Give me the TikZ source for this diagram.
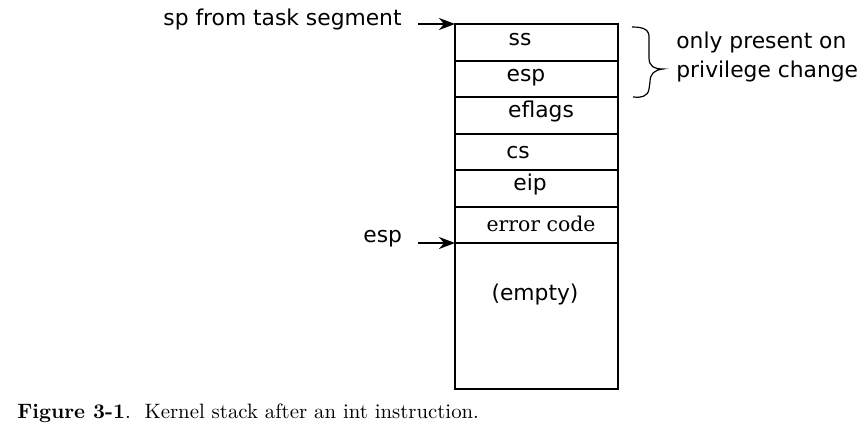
\documentclass[tikz,border=0pt]{standalone}
\usepackage{fontspec}
\setmainfont{DejaVu Sans}
\newfontfamily\errfont{DejaVu Serif}
\newfontfamily\capfont{Latin Modern Roman}
\usetikzlibrary{arrows.meta}

\tikzset{
  lbl/.style={font=\fontsize{10.9}{13}\selectfont, inner sep=0pt},
  cell/.style={lbl, anchor=base},
}

\begin{document}
\begin{tikzpicture}[x=0.5pt, y=-0.5pt, >={Stealth[length=8pt,width=6pt,inset=2.5pt]}]
    \useasboundingbox (0,0) rectangle (868,434);
    % the stack
    \draw[line width=0.8pt] (455,24) rectangle (618,389);
    \foreach \y in {61,97,134,170,207,243}
      \draw[line width=0.6pt] (455,\y) -- (618,\y);
    \node[cell] (ss)     at (520,45)  {ss};
    \node[cell] (esp)    at (526,81)  {esp};
    \node[cell] (eflags) at (541,117) {eflags};
    \node[cell] (cs)     at (518,158) {cs};
    \node[cell] (eip)    at (530,190) {eip};
    \node[cell, font=\errfont\fontsize{10.2}{12}\selectfont] (errcode) at (541,231) {error code};
    \node[cell] (empty)  at (535,300) {(empty)};
    % pointers
    \node[lbl, anchor=base west] (sptext) at (163,25) {sp from task segment};
    \coordinate (sptail) at (418,24);
    \coordinate (sphead) at (455,24);
    \draw[->, line width=0.9pt] (sptail) -- (sphead);
    \node[lbl, anchor=base west] (esptext) at (363,242) {esp};
    \coordinate (esptail) at (418,243);
    \coordinate (esphead) at (455,243);
    \draw[->, line width=0.9pt] (esptail) -- (esphead);
    % brace
    \draw[line width=0.6pt] (632,27) .. controls (645,27) and (650,30) .. (649,40)
      -- (649,58) .. controls (649,66) and (654,69) .. (663,69)
      .. controls (654,70) and (650,74) .. (650,82)
      -- (649,89) .. controls (648,97) and (640,98) .. (633,97);
    \node[lbl, anchor=base west, align=left] (note) at (676,77)
      {only present on\\[1.2pt]privilege change};
    % caption
    \node[anchor=base west, inner sep=0pt, font=\capfont\fontsize{10.4}{12}\selectfont] (caption) at (17,418)
      {\textbf{Figure 3-1}.\ \ Kernel stack after an int instruction.};
  \end{tikzpicture}
\end{document}
